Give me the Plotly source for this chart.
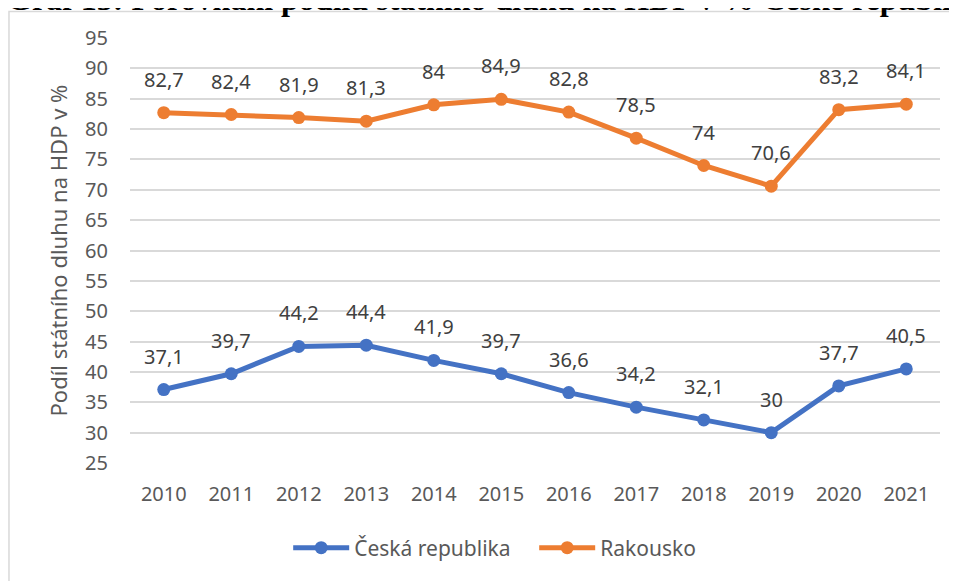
import plotly.graph_objects as go

years = [str(y) for y in range(2010, 2022)]
cz_debt = [37.1, 39.7, 44.2, 44.4, 41.9, 39.7, 36.6, 34.2, 32.1, 30, 37.7, 40.5]
at_debt = [82.7, 82.4, 81.9, 81.3, 84, 84.9, 82.8, 78.5, 74, 70.6, 83.2, 84.1]
series_names = ["Česká republika", "Rakousko"]
colors = ["#4472C4", "#ED7D31"]

font_family = "Noto Sans, Open Sans, sans-serif"

fig = go.Figure()
for name, vals, col in zip(series_names, [cz_debt, at_debt], colors):
    fig.add_trace(go.Scatter(
        x=years, y=vals, name=name, mode="lines+markers",
        line=dict(color=col, width=5),
        marker=dict(color=col, size=13),
    ))
    # data labels above each point, decimal comma like the original
    # (x given as category index so the axis doesn't read "2010" as a number)
    for i, v in enumerate(vals):
        fig.add_annotation(
            x=i, y=v, text=f"{v:g}".replace(".", ","), showarrow=False,
            yanchor="bottom", yshift=18,
            font=dict(family=font_family, size=20, color="#404040"),
        )

# y-axis title as rotated text
fig.add_annotation(
    xref="paper", yref="paper", x=-0.0889, y=0.5, xanchor="center", yanchor="middle",
    text="Podíl státního dluhu na HDP v %", textangle=-90, showarrow=False,
    font=dict(family=font_family, size=22, color="#595959"),
)

# caption of the document, cut off at the top edge like in the screenshot
fig.add_annotation(
    xref="paper", yref="paper", x=-0.1543, y=1.0917, xanchor="left", yanchor="middle",
    text="<b>Graf 13: Porovnání podílu státního dluhu na HDP v % České republiky a Rakouska</b>",
    showarrow=False,
    font=dict(family="Liberation Serif, serif", size=32, color="black"),
)

# chart frame (partly cut off like the screenshot)
fig.add_shape(
    type="rect", xref="paper", yref="paper",
    x0=-0.1494, x1=1.2, y0=-0.4, y1=1.0624,
    line=dict(color="#d9d9d9", width=1.5), layer="below",
)

fig.update_layout(
    width=957, height=581,
    margin=dict(l=122, r=25, t=30, b=126),
    paper_bgcolor="white", plot_bgcolor="white",
    font=dict(family=font_family, color="#595959", size=20),
    showlegend=True,
    legend=dict(
        orientation="h", x=0.499, xanchor="center", y=-0.2, yanchor="middle",
        font=dict(family=font_family, size=21, color="#595959"),
        itemwidth=56, entrywidth=175, entrywidthmode="pixels",
    ),
    xaxis=dict(
        type="category", range=[-0.5, 11.5], autorange=False,
        showgrid=False, showline=False, ticks="", ticklabelstandoff=17,
        tickfont=dict(size=20),
    ),
    yaxis=dict(
        range=[25, 95], dtick=5, showgrid=True, gridcolor="#d9d9d9", gridwidth=1.5,
        zeroline=False, showline=False, ticks="", ticklabelstandoff=21,
        tickfont=dict(size=20),
    ),
)

fig.write_html("out.html")
